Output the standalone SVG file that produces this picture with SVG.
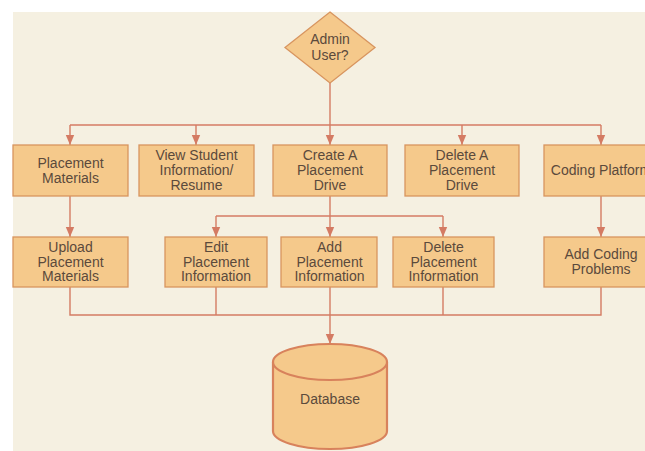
<svg xmlns="http://www.w3.org/2000/svg" width="645" height="451" viewBox="0 0 645 451">
  <defs>
    <marker id="arrow" markerUnits="userSpaceOnUse" markerWidth="10" markerHeight="10" viewBox="0 0 10 10" refX="10" refY="5" orient="auto">
      <path d="M0,0.8 L10,5 L0,9.2 Z" fill="#d47b63"/>
    </marker>
  </defs>
  <style>
    .box { fill: #f5c98b; stroke: #d8955f; stroke-width: 1.3; }
    .db { fill: #f5c98b; stroke: #d8825c; stroke-width: 2.2; }
    .wire { fill: none; stroke: #d47b63; stroke-width: 1.4; }
    .lbl { font-family: "Liberation Sans", Arial, sans-serif; font-size: 14px; fill: #5b4a3c; text-anchor: middle; }
  </style>

  <rect x="0" y="0" width="645" height="451" fill="#ffffff"/>
  <rect x="13" y="12" width="632" height="439" fill="#f5f0e1"/>

  <g id="connectors">
    <!-- decision to first row -->
    <path class="wire" d="M330,83 V145" marker-end="url(#arrow)"/>
    <path class="wire" d="M70,125 H601"/>
    <path class="wire" d="M70,125 V145" marker-end="url(#arrow)"/>
    <path class="wire" d="M196,125 V145" marker-end="url(#arrow)"/>
    <path class="wire" d="M462,125 V145" marker-end="url(#arrow)"/>
    <path class="wire" d="M601,125 V145" marker-end="url(#arrow)"/>
    <!-- first row to second row -->
    <path class="wire" d="M70,196 V237" marker-end="url(#arrow)"/>
    <path class="wire" d="M601,196 V237" marker-end="url(#arrow)"/>
    <path class="wire" d="M330,196 V237" marker-end="url(#arrow)"/>
    <path class="wire" d="M216,216 H443"/>
    <path class="wire" d="M216,216 V237" marker-end="url(#arrow)"/>
    <path class="wire" d="M443,216 V237" marker-end="url(#arrow)"/>
    <!-- second row to database -->
    <path class="wire" d="M70,287 V315 H601 V287"/>
    <path class="wire" d="M216,287 V315"/>
    <path class="wire" d="M443,287 V315"/>
    <path class="wire" d="M330,287 V344" marker-end="url(#arrow)"/>
  </g>

  <g id="admin-user">
    <polygon class="box" points="330,12 375,47.5 330,83 285,47.5"/>
    <text class="lbl" x="330" y="44">Admin</text>
    <text class="lbl" x="330" y="60">User?</text>
  </g>

  <g id="placement-materials">
    <rect class="box" x="13" y="145" width="115" height="51"/>
    <text class="lbl" x="70.5" y="168">Placement</text>
    <text class="lbl" x="70.5" y="183">Materials</text>
  </g>

  <g id="view-student">
    <rect class="box" x="139" y="145" width="115" height="51"/>
    <text class="lbl" x="196.5" y="160">View Student</text>
    <text class="lbl" x="196.5" y="175">Information/</text>
    <text class="lbl" x="196.5" y="189.5">Resume</text>
  </g>

  <g id="create-drive">
    <rect class="box" x="273" y="145" width="114" height="51"/>
    <text class="lbl" x="330" y="160">Create A</text>
    <text class="lbl" x="330" y="175">Placement</text>
    <text class="lbl" x="330" y="189.5">Drive</text>
  </g>

  <g id="delete-drive">
    <rect class="box" x="405" y="145" width="114" height="51"/>
    <text class="lbl" x="462" y="160">Delete A</text>
    <text class="lbl" x="462" y="175">Placement</text>
    <text class="lbl" x="462" y="189.5">Drive</text>
  </g>

  <g id="coding-platform">
    <rect class="box" x="544" y="145" width="114" height="51"/>
    <text class="lbl" x="601" y="175">Coding Platform</text>
  </g>

  <g id="upload-materials">
    <rect class="box" x="13" y="237" width="115" height="50"/>
    <text class="lbl" x="70.5" y="252">Upload</text>
    <text class="lbl" x="70.5" y="266.5">Placement</text>
    <text class="lbl" x="70.5" y="281">Materials</text>
  </g>

  <g id="edit-info">
    <rect class="box" x="165" y="237" width="102" height="50"/>
    <text class="lbl" x="216" y="252">Edit</text>
    <text class="lbl" x="216" y="266.5">Placement</text>
    <text class="lbl" x="216" y="281">Information</text>
  </g>

  <g id="add-info">
    <rect class="box" x="281" y="237" width="96" height="50"/>
    <text class="lbl" x="329.5" y="252">Add</text>
    <text class="lbl" x="329.5" y="266.5">Placement</text>
    <text class="lbl" x="329.5" y="281">Information</text>
  </g>

  <g id="delete-info">
    <rect class="box" x="393" y="237" width="101" height="50"/>
    <text class="lbl" x="443.5" y="252">Delete</text>
    <text class="lbl" x="443.5" y="266.5">Placement</text>
    <text class="lbl" x="443.5" y="281">Information</text>
  </g>

  <g id="add-coding">
    <rect class="box" x="544" y="237" width="114" height="50"/>
    <text class="lbl" x="601" y="259">Add Coding</text>
    <text class="lbl" x="601" y="273.5">Problems</text>
  </g>

  <g id="database">
    <path class="db" d="M273,362 V431 A57,18 0 0 0 387,431 V362 A57,18 0 0 0 273,362 Z"/>
    <path class="db" d="M273,362 A57,18 0 0 0 387,362" fill="none"/>
    <text class="lbl" x="330" y="404">Database</text>
  </g>
</svg>
